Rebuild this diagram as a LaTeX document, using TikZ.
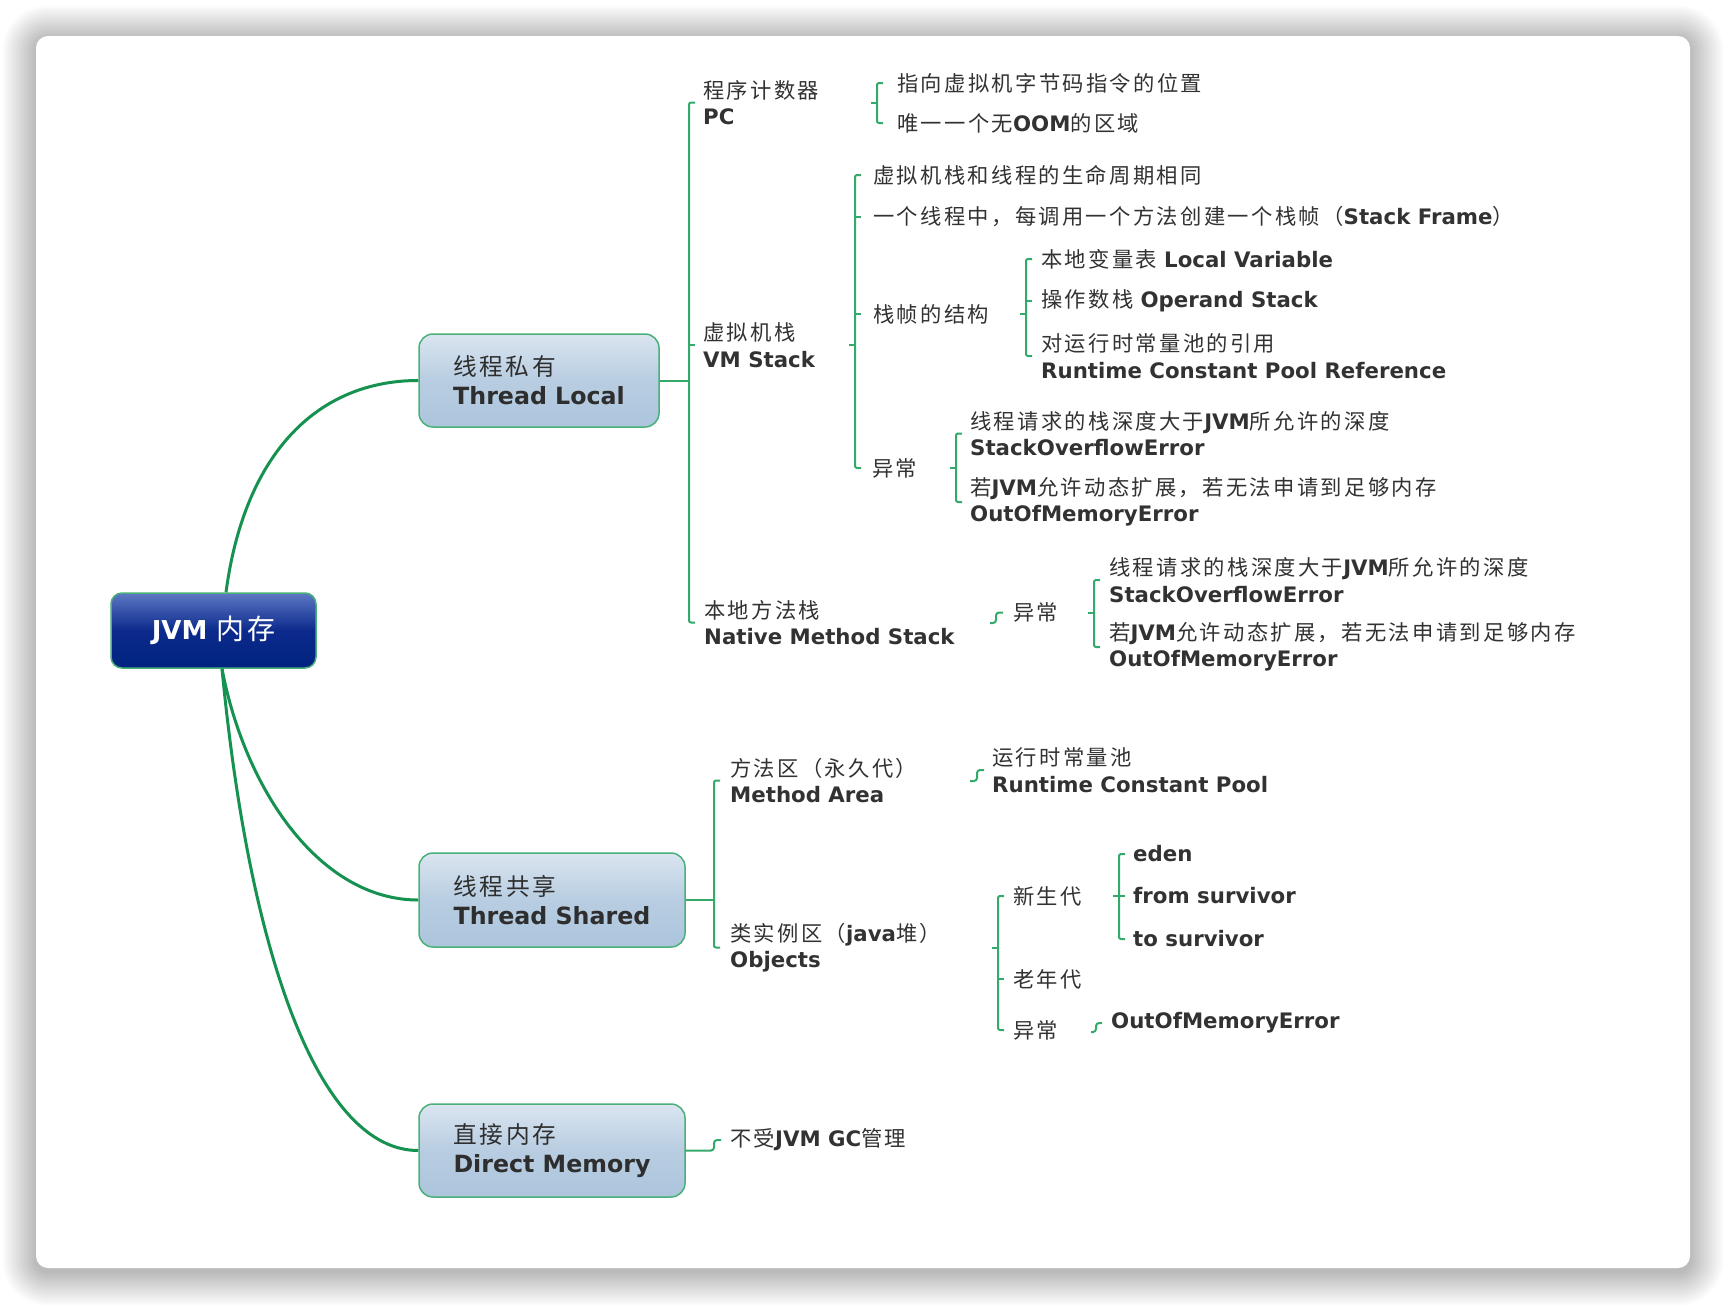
\documentclass[tikz,border=0pt]{standalone}
\usepackage{fontspec}
\setmainfont{Noto Sans CJK SC}[LetterSpace=11]
\newfontfamily\enfont{DejaVu Sans}
\usetikzlibrary{calc}
\newcommand\en[1]{{\enfont\bfseries #1}}
\definecolor{maingreen}{RGB}{22,146,80}
\definecolor{brgreen}{RGB}{51,170,105}
\definecolor{boxborder}{RGB}{72,176,120}
\definecolor{boxtop}{RGB}{218,229,240}
\definecolor{boxmid}{RGB}{184,205,225}
\definecolor{boxbot}{RGB}{172,197,221}
\definecolor{roottop}{RGB}{92,120,196}
\definecolor{rootmid}{RGB}{12,42,140}
\definecolor{rootbot}{RGB}{0,35,128}
\definecolor{textc}{RGB}{50,50,50}
\begin{document}
\begin{tikzpicture}[x=1pt,y=-1pt,
  leaf/.style={anchor=west,inner sep=0pt,align=left,text=textc,font=\fontsize{21.3}{26.5}\selectfont},
  topicbox/.style={draw=boxborder,line width=1.5pt,rounded corners=14pt,top color=boxtop,bottom color=boxbot,middle color=boxmid,
    align=left,text=black!82,font=\fontsize{23.7}{29}\selectfont,inner sep=0pt},
  rootbox/.style={draw=boxborder,line width=1.5pt,rounded corners=11pt,top color=roottop,bottom color=rootbot,middle color=rootmid,
    text=white,font=\fontsize{26}{30}\selectfont,inner sep=0pt,minimum width=205pt,minimum height=75pt},
  mainlink/.style={draw=maingreen,line width=3pt},
  brline/.style={draw=brgreen,line width=2pt,rounded corners=2pt},
  slink/.style={draw=brgreen,line width=2pt,rounded corners=3pt}]
\fill[white] (0,0) rectangle (1726,1304);
\useasboundingbox (0,0) rectangle (1726,1304);
% card shadow
\foreach \i [evaluate=\i as \rc using 12+\i] in {1,...,34}{
  \fill[black,fill opacity=0.0075,rounded corners=\rc pt] (36-\i,39-\i) rectangle (1690+\i,1272+\i);
}
\fill[white,rounded corners=12pt] (36,36) rectangle (1690,1268);

% root and topic boxes
\node[rootbox] (root) at (213.5,630.5) {\en{JVM} {\fontsize{28}{30}\selectfont 内存}};
\node[topicbox,minimum width=240pt,minimum height=93pt] (tl) at (539,380.5) {线程私有\\\en{Thread Local}};
\node[topicbox,minimum width=266pt,minimum height=94pt] (ts) at (552,900) {线程共享\\\en{Thread Shared}};
\node[topicbox,minimum width=266pt,minimum height=93pt] (dm) at (552,1150.5) {直接内存\\\en{Direct Memory}};

% thread local branch
\node[leaf] (pc) at (703,102.5) {程序计数器\\\en{PC}};
\node[leaf] (vm) at (703,345) {虚拟机栈\\\en{VM Stack}};
\node[leaf] (nat) at (704,622.5) {本地方法栈\\\en{Native Method Stack}};

\node[leaf] (pc1) at (897,83) {指向虚拟机字节码指令的位置};
\node[leaf] (pc2) at (897,123) {唯一一个无\en{OOM}的区域};

\node[leaf] (vm1) at (873,175) {虚拟机栈和线程的生命周期相同};
\node[leaf] (vm2) at (873,217) {一个线程中，每调用一个方法创建一个栈帧（\en{Stack Frame}）};
\node[leaf] (vm3) at (873,314) {栈帧的结构};
\node[leaf] (vm4) at (872,468) {异常};

\node[leaf] (sf1) at (1041,259) {本地变量表 \en{Local Variable}};
\node[leaf] (sf2) at (1041,301) {操作数栈 \en{Operand Stack}};
\node[leaf] (sf3) at (1041,356) {对运行时常量池的引用\\\en{Runtime Constant Pool Reference}};

\node[leaf] (ex1a) at (970,433.5) {线程请求的栈深度大于\en{JVM}所允许的深度\\\en{StackOverflowError}};
\node[leaf] (ex1b) at (970,502) {若\en{JVM}允许动态扩展，若无法申请到足够内存\\\en{OutOfMemoryError}};

\node[leaf] (nex) at (1013,612.5) {异常};
\node[leaf] (ex2a) at (1109,580) {线程请求的栈深度大于\en{JVM}所允许的深度\\\en{StackOverflowError}};
\node[leaf] (ex2b) at (1109,647) {若\en{JVM}允许动态扩展，若无法申请到足够内存\\\en{OutOfMemoryError}};

% thread shared branch
\node[leaf] (ma) at (730,780.5) {方法区（永久代）\\\en{Method Area}};
\node[leaf] (obj) at (730,947.5) {类实例区（\en{java}堆）\\\en{Objects}};
\node[leaf] (rcp) at (992,770) {运行时常量池\\\en{Runtime Constant Pool}};
\node[leaf] (yg) at (1013,896) {新生代};
\node[leaf] (og) at (1013,979) {老年代};
\node[leaf] (hex) at (1013,1030) {异常};
\node[leaf] (eden) at (1133,854) {\en{eden}};
\node[leaf] (from) at (1133,896) {\en{from survivor}};
\node[leaf] (to) at (1133,939) {\en{to survivor}};
\node[leaf] (oom) at (1111,1023) {\en{OutOfMemoryError}};

% direct memory branch
\node[leaf] (gc) at (730,1140) {不受\en{JVM GC}管理};

% main curves
\draw[mainlink] ([xshift=12.5pt]root.north) .. controls (245,450) and (320,380.5) .. (tl.west);
\draw[mainlink] ([xshift=8.5pt]root.south) .. controls (245,790) and (320,900) .. (ts.west);
\draw[mainlink] ([xshift=8.5pt]root.south) .. controls (250,960) and (320,1150.5) .. (dm.west);

% bracket spines
\coordinate (tlB) at (689,380.5);
\coordinate (pcB) at (877,103);
\coordinate (vmB) at (855,345);
\coordinate (sfB) at (1026,314);
\coordinate (exB) at (956,468);
\coordinate (nexB) at (1094,613);
\coordinate (tsB) at (714,900);
\coordinate (objB) at (998,947.5);
\coordinate (ygB) at (1119,896);

% thread local
\draw[brline] (tl.east) -- (tlB);
\draw[brline] ($(tlB |- pc.west)+(6,0)$) -- (tlB |- pc.west) -- (tlB |- nat.west) -- ($(tlB |- nat.west)+(6,0)$);
\draw[brline] (tlB |- vm.west) -- ++(6,0);
% pc
\draw[brline] ($(pcB)+(-6,0)$) -- (pcB);
\draw[brline] ($(pcB |- pc1.west)+(6,0)$) -- (pcB |- pc1.west) -- (pcB |- pc2.west) -- ($(pcB |- pc2.west)+(6,0)$);
% vm stack
\draw[brline] ($(vmB)+(-6,0)$) -- (vmB);
\draw[brline] ($(vmB |- vm1.west)+(6,0)$) -- (vmB |- vm1.west) -- (vmB |- vm4.west) -- ($(vmB |- vm4.west)+(6,0)$);
\draw[brline] (vmB |- vm2.west) -- ++(6,0);
\draw[brline] (vmB |- vm3.west) -- ++(6,0);
% stack frame
\draw[brline] ($(sfB)+(-6,0)$) -- (sfB);
\draw[brline] ($(sfB |- sf1.west)+(6,0)$) -- (sfB |- sf1.west) -- (sfB |- sf3.west) -- ($(sfB |- sf3.west)+(6,0)$);
\draw[brline] (sfB |- sf2.west) -- ++(6,0);
% exceptions of vm stack
\draw[brline] ($(exB)+(-6,0)$) -- (exB);
\draw[brline] ($(exB |- ex1a.west)+(6,0)$) -- (exB |- ex1a.west) -- (exB |- ex1b.west) -- ($(exB |- ex1b.west)+(6,0)$);
% native method stack
\coordinate (natS) at (990,623);
\draw[slink] (natS) -- ++(6,0) |- ($(nex.west)+(-10,0)$);
\draw[brline] ($(nexB)+(-6,0)$) -- (nexB);
\draw[brline] ($(nexB |- ex2a.west)+(6,0)$) -- (nexB |- ex2a.west) -- (nexB |- ex2b.west) -- ($(nexB |- ex2b.west)+(6,0)$);

% thread shared
\draw[brline] (ts.east) -- (tsB);
\draw[brline] ($(tsB |- ma.west)+(6,0)$) -- (tsB |- ma.west) -- (tsB |- obj.west) -- ($(tsB |- obj.west)+(6,0)$);
\coordinate (maS) at (970,781);
\draw[slink] (maS) -- ++(7,0) |- ($(rcp.west)+(-8,0)$);
\draw[brline] ($(objB)+(-6,0)$) -- (objB);
\draw[brline] ($(objB |- yg.west)+(6,0)$) -- (objB |- yg.west) -- (objB |- hex.west) -- ($(objB |- hex.west)+(6,0)$);
\draw[brline] (objB |- og.west) -- ++(6,0);
\draw[brline] ($(ygB)+(-6,0)$) -- (ygB);
\draw[brline] ($(ygB |- eden.west)+(6,0)$) -- (ygB |- eden.west) -- (ygB |- to.west) -- ($(ygB |- to.west)+(6,0)$);
\draw[brline] (ygB |- from.west) -- ++(6,0);
\coordinate (hexS) at (1091,1032);
\draw[slink] (hexS) -- ++(5,0) |- ($(oom.west)+(-9,0)$);

% direct memory
\draw[slink] (dm.east) -- (714,1150.5) |- ($(gc.west)+(-9,0)$);
\end{tikzpicture}
\end{document}
